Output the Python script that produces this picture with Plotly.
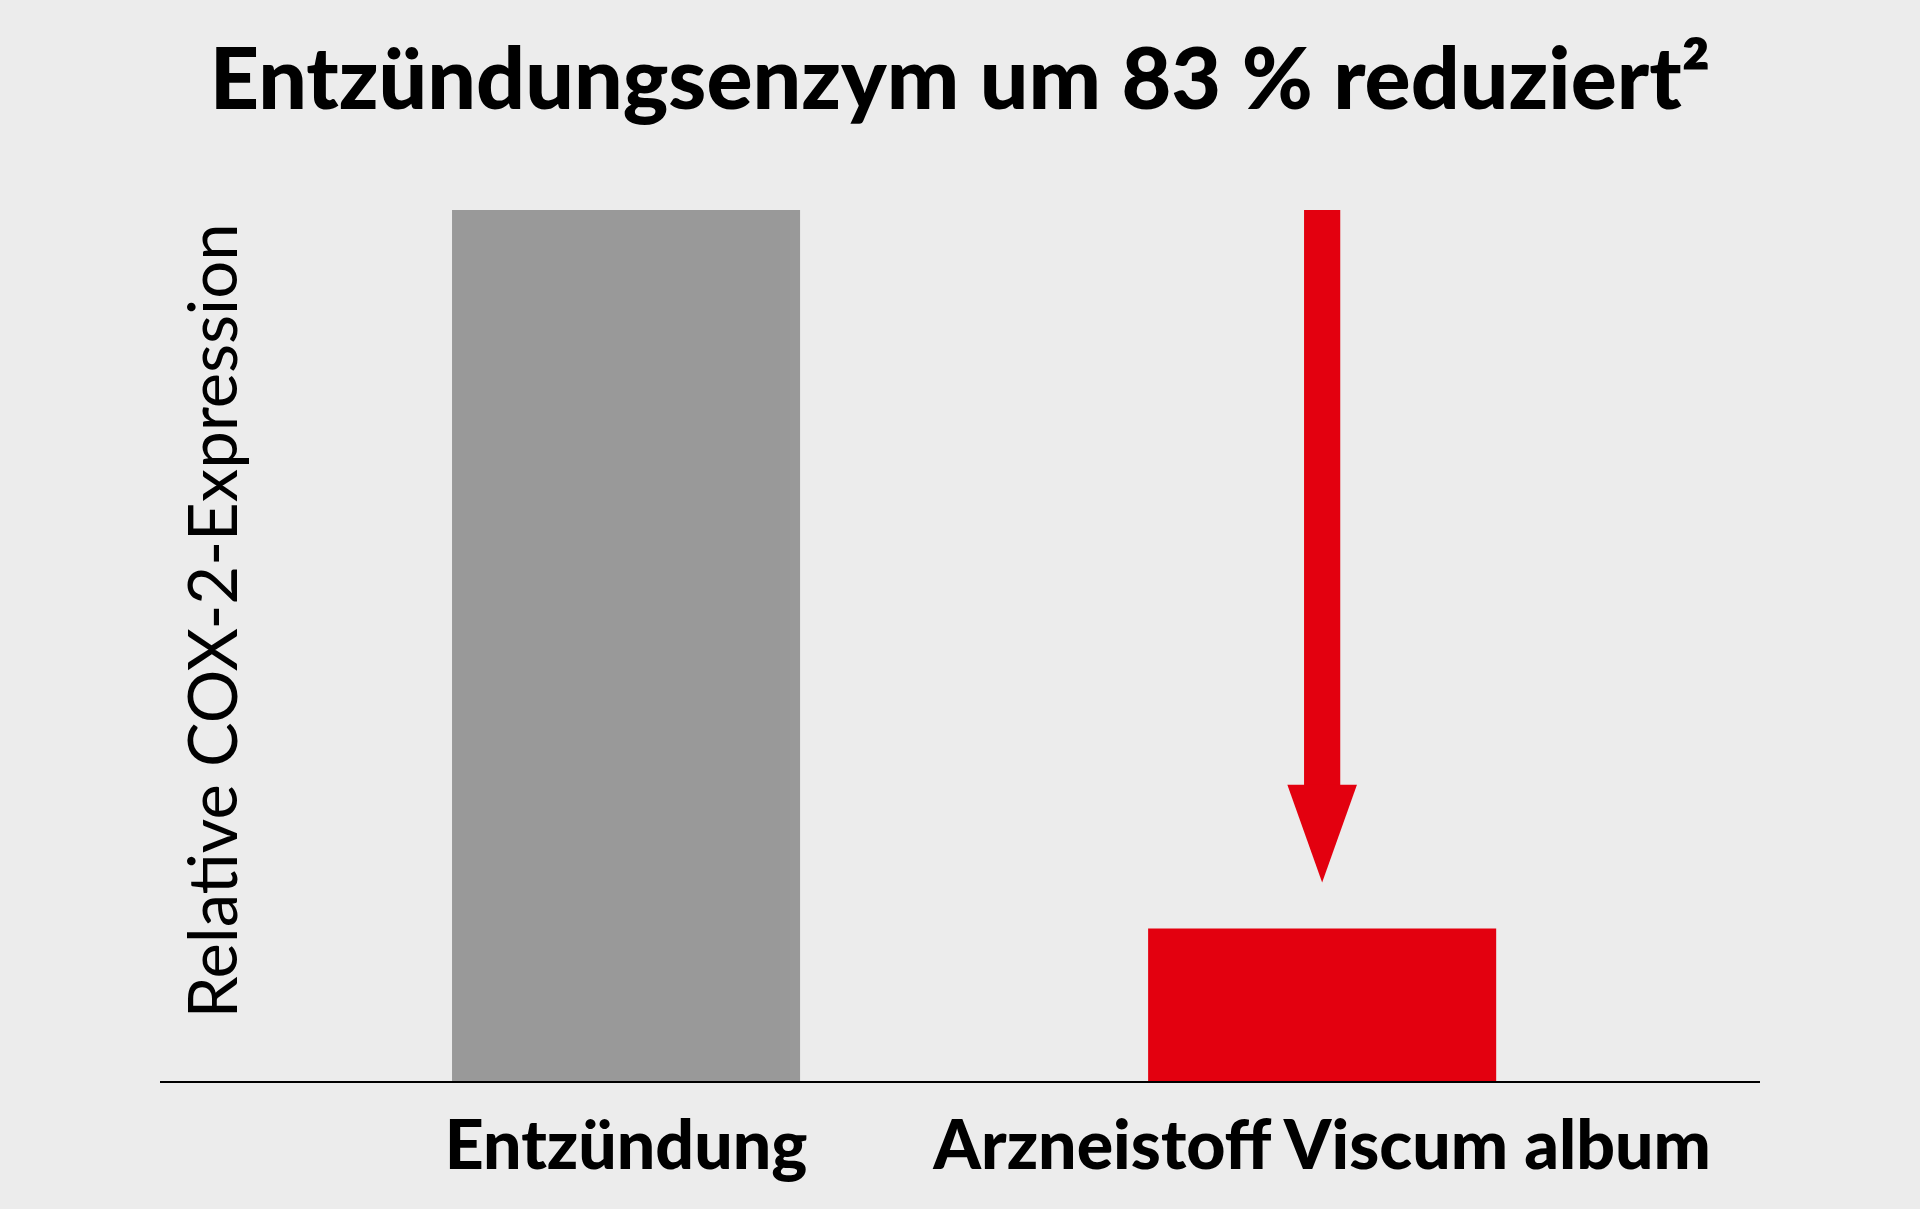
import plotly.graph_objects as go

# Data
categories = ["Entzündung", "Arzneistoff Viscum album"]
values = [100, 17.5]
bar_colors = ["#999999", "#e3000f"]

title_text = "Entzündungsenzym um 83 % reduziert²"
y_title = "Relative COX-2-Expression"

bg = "#ececec"
red = "#e3000f"

fig = go.Figure()
fig.add_trace(go.Bar(x=categories, y=values, marker=dict(color=bar_colors, line=dict(width=0)),
                     width=0.5, hoverinfo="skip"))

# arrow pointing from the top of the first bar down to the second bar
ax = 1
top = values[0]
tip = values[1] + 5.3
head_base = tip + 11.2
shaft_hw = 0.026
head_hw = 0.05
fig.add_shape(type="rect", xref="x", yref="y", x0=ax - shaft_hw, x1=ax + shaft_hw,
              y0=head_base - 0.3, y1=top, fillcolor=red, line=dict(width=0), layer="above")
fig.add_shape(type="path", xref="x", yref="y",
              path=f"M {ax - head_hw} {head_base} L {ax + head_hw} {head_base} L {ax} {tip} Z",
              fillcolor=red, line=dict(width=0), layer="above")

fig.add_annotation(text=y_title, xref="paper", yref="paper", x=0.032, y=0.528,
                   textangle=-90, showarrow=False, xanchor="center", yanchor="middle",
                   font=dict(family="Lato", size=67, color="#000000", weight=400))

fig.update_layout(
    width=1920, height=1209,
    paper_bgcolor=bg, plot_bgcolor=bg,
    margin=dict(l=160, r=160, t=210, b=128),
    showlegend=False,
    title=dict(text=title_text, x=0.5, xanchor="center", y=0.935, yanchor="middle",
               font=dict(family="Lato", size=86, color="#000000", weight=900)),
    xaxis=dict(range=[-0.6695, 1.629], showline=True, linecolor="#000000", linewidth=2,
               showgrid=False, ticks="outside", ticklen=4, tickcolor=bg,
               tickfont=dict(family="Lato", size=68, color="#000000", weight=900)),
    yaxis=dict(range=[0, 100], showline=False, showgrid=False, zeroline=False,
               showticklabels=False, ticks=""),
)

fig.write_html("out.html", config={"displayModeBar": False},
               post_script="document.body.style.margin='0';")
